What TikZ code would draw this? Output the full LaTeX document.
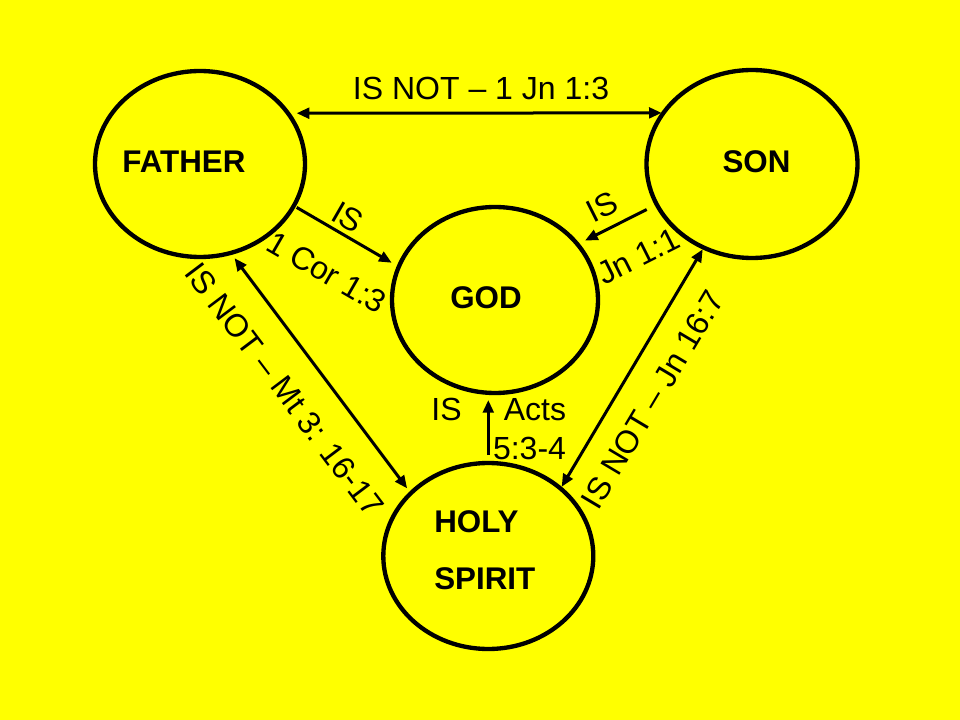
\documentclass[tikz,border=0pt]{standalone}
\usepackage{fontspec}
\setmainfont{Liberation Sans}
\usetikzlibrary{arrows.meta,shapes.geometric}
\definecolor{bgyellow}{HTML}{FFFF00}
\begin{document}
\begin{tikzpicture}[x=0.75pt,y=-0.75pt,
  oval/.style={ellipse,draw=black,line width=3.25pt,inner sep=0pt,outer sep=0pt},
  ttl/.style={font=\fontsize{23.5pt}{28pt}\selectfont\bfseries,inner sep=0pt,text height=16.8pt,text depth=0pt},
  lbl/.style={font=\fontsize{24pt}{29pt}\selectfont,inner sep=0pt,text height=17.2pt,text depth=0pt},
  arr/.style={line width=2.25pt,-{Triangle[length=9.5pt,width=8pt]}},
  dbl/.style={line width=2.25pt,{Triangle[length=9.5pt,width=8pt]}-{Triangle[length=9.5pt,width=8pt]}}
]
\fill[bgyellow] (0,0) rectangle (960,720);
\useasboundingbox (0,0) rectangle (960,720);

% circles
\node[oval,minimum width=157.5pt,minimum height=139.5pt] (F) at (200,164) {};
\node[oval,minimum width=158.25pt,minimum height=141pt] (S) at (752,164) {};
\node[oval,minimum width=154.5pt,minimum height=139.5pt] (G) at (495,300) {};
\node[oval,minimum width=157.5pt,minimum height=139.5pt] (H) at (488.3,556) {};

% titles
\node[ttl] (tF) at (184,161) {FATHER};
\node[ttl] (tS) at (756.5,161) {SON};
\node[ttl] (tG) at (486,297) {GOD};
\node[ttl,anchor=west] (tH1) at (434,521) {HOLY};
\node[ttl,anchor=west] (tH2) at (434,578.5) {SPIRIT};

% connectors
\draw[dbl,shorten <=6.5pt,shorten >=1.35pt] (F.30) -- (S.150);
\draw[arr,shorten <=2.5pt,shorten >=6.1pt] (F.-24) -- (G.161);
\draw[arr,shorten <=8.5pt,shorten >=6.3pt] (S.203) -- (G.34);
\draw[dbl,shorten <=4.9pt,shorten >=4.6pt] (F.-71) -- (H.141);
\draw[dbl,shorten <=1.5pt,shorten >=1.5pt] (S.-120) -- (H.43);
\draw[arr,shorten <=6pt,shorten >=5.25pt] (H.90) -- (H.90 |- G.-90);

% labels
\node[lbl] (l1) at (481,88.5) {IS NOT – 1 Jn 1:3};
\node[lbl,rotate=-30] (l2) at (348,217) {IS};
\node[lbl,rotate=-30] (l3) at (327,272) {1 Cor 1:3};
\node[lbl,rotate=26.7] (l4) at (601.7,206) {IS};
\node[lbl,rotate=26.7] (l5) at (638.3,256) {Jn 1:1};
\node[lbl,rotate=-53] (l6) at (285,389) {IS NOT – Mt 3: 16-17};
\node[lbl,rotate=59.2] (l7) at (652,399.5) {IS NOT – Jn 16:7};
\node[lbl] (l8) at (446.5,409) {IS};
\node[lbl] (l9) at (535,409) {Acts};
\node[lbl] (l10) at (529.5,448) {5:3-4};
\end{tikzpicture}
\end{document}
